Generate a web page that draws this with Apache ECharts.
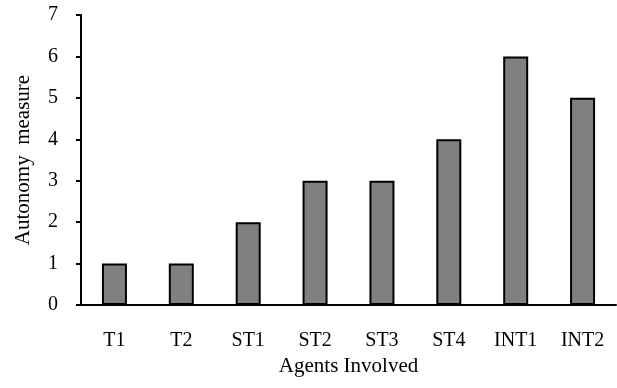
<!DOCTYPE html>
<html>
<head>
<meta charset="utf-8">
<script src="https://cdn.jsdelivr.net/npm/echarts@6/dist/echarts.min.js"></script>
<style>
html,body{margin:0;padding:0;background:#fff;}
#c{width:617px;height:388px;}
</style>
</head>
<body>
<div id="c"></div>
<script>
const categories = ['T1','T2','ST1','ST2','ST3','ST4','INT1','INT2'];
const values = [1,1,2,3,3,4,6,5];
const yTicks = [0,1,2,3,4,5,6,7];

const font = "'Liberation Serif','Times New Roman',serif";
const chart = echarts.init(document.getElementById('c'), null, {renderer:'canvas'});
chart.setOption({
  animation:false,
  backgroundColor:'#fff',
  grid:{left:81,right:1,top:15,bottom:83,containLabel:false},
  xAxis:{
    type:'category',
    data:categories,
    name:'Agents Involved',
    nameLocation:'middle',
    nameGap:48,
    nameTextStyle:{fontFamily:font,fontSize:21,color:'#000'},
    axisLine:{lineStyle:{color:'#000',width:2}},
    axisTick:{show:false},
    axisLabel:{fontFamily:font,fontSize:20,color:'#000',margin:26}
  },
  yAxis:{
    type:'value',
    min:yTicks[0],
    max:yTicks[yTicks.length-1],
    interval:1,
    name:'Autonomy  measure',
    nameLocation:'middle',
    nameGap:47,
    nameTextStyle:{fontFamily:font,fontSize:21,color:'#000'},
    axisLine:{show:true,lineStyle:{color:'#000',width:2}},
    axisTick:{show:true,length:5,lineStyle:{color:'#000',width:2}},
    axisLabel:{fontFamily:font,fontSize:20,color:'#000',margin:23},
    splitLine:{show:false}
  },
  series:[{
    type:'bar',
    data:values,
    barWidth:25,
    itemStyle:{color:'#808080',borderColor:'#000',borderWidth:2}
  }]
});
</script>
</body>
</html>
